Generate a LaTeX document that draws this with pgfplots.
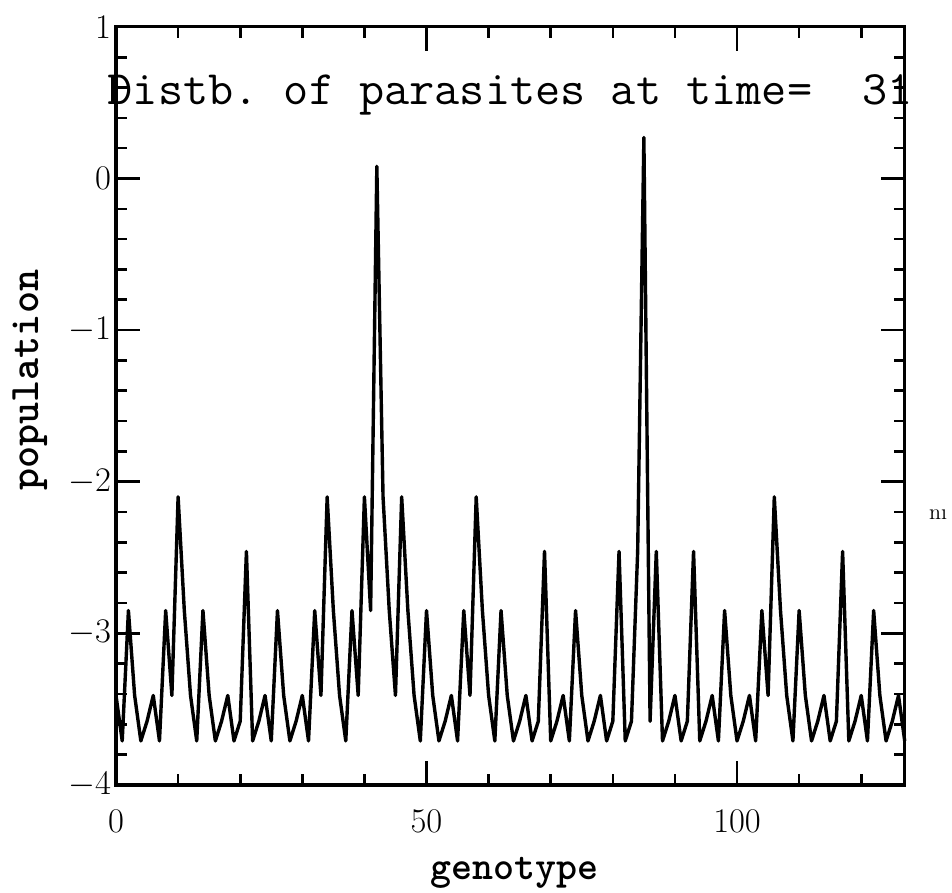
\documentclass[border=0pt]{standalone}
\usepackage{pgfplots}
\usepackage{pgfplotstable}
\usepackage{graphicx}
\pgfplotsset{compat=1.18}

\pgfplotstableread{
g v
0 -3.41
1 -3.71
2 -2.85
3 -3.41
4 -3.71
5 -3.58
6 -3.41
7 -3.71
8 -2.85
9 -3.41
10 -2.10
11 -2.85
12 -3.41
13 -3.71
14 -2.85
15 -3.41
16 -3.71
17 -3.58
18 -3.41
19 -3.71
20 -3.58
21 -2.46
22 -3.71
23 -3.58
24 -3.41
25 -3.71
26 -2.85
27 -3.41
28 -3.71
29 -3.58
30 -3.41
31 -3.71
32 -2.85
33 -3.41
34 -2.10
35 -2.85
36 -3.41
37 -3.71
38 -2.85
39 -3.41
40 -2.10
41 -2.85
42 0.08
43 -2.10
44 -2.85
45 -3.41
46 -2.10
47 -2.85
48 -3.41
49 -3.71
50 -2.85
51 -3.41
52 -3.71
53 -3.58
54 -3.41
55 -3.71
56 -2.85
57 -3.41
58 -2.10
59 -2.85
60 -3.41
61 -3.71
62 -2.85
63 -3.41
64 -3.71
65 -3.58
66 -3.41
67 -3.71
68 -3.58
69 -2.46
70 -3.71
71 -3.58
72 -3.41
73 -3.71
74 -2.85
75 -3.41
76 -3.71
77 -3.58
78 -3.41
79 -3.71
80 -3.58
81 -2.46
82 -3.71
83 -3.58
84 -2.46
85 0.27
86 -3.58
87 -2.46
88 -3.71
89 -3.58
90 -3.41
91 -3.71
92 -3.58
93 -2.46
94 -3.71
95 -3.58
96 -3.41
97 -3.71
98 -2.85
99 -3.41
100 -3.71
101 -3.58
102 -3.41
103 -3.71
104 -2.85
105 -3.41
106 -2.10
107 -2.85
108 -3.41
109 -3.71
110 -2.85
111 -3.41
112 -3.71
113 -3.58
114 -3.41
115 -3.71
116 -3.58
117 -2.46
118 -3.71
119 -3.58
120 -3.41
121 -3.71
122 -2.85
123 -3.41
124 -3.71
125 -3.58
126 -3.41
127 -3.71
}\parasites

\begin{document}
\begin{tikzpicture}
\begin{axis}[
  scale only axis,
  width=394.35pt, height=379pt,
  xmin=0, xmax=127, ymin=-4, ymax=1,
  xtick={0,50,100},
  minor xtick={10,20,30,40,60,70,80,90,110,120},
  ytick={-4,-3,-2,-1,0,1},
  minor y tick num=4,
  tick align=inside,
  major tick length=12pt,
  minor tick length=5.5pt,
  axis line style={line width=1.6pt},
  every tick/.style={line width=1.3pt, black},
  ticklabel style={font=\fontsize{19}{19}\selectfont},
  xticklabel style={yshift=-9pt},
  yticklabel style={xshift=1pt},
  clip=false,
]
\addplot[black, line width=1.7pt, line join=round] table[x=g, y=v] {\parasites};
\coordinate (ll) at (rel axis cs:0,0);
\coordinate (ur) at (rel axis cs:1,1);
\node[anchor=base, inner sep=0pt] at (rel axis cs:0.5,0.898)
  {\resizebox{402.5pt}{\height}{\ttfamily\frenchspacing\fontsize{24}{24}\selectfont Distb. of parasites at time=\ \ 31}};
\node[anchor=base, inner sep=0pt, yshift=-47.5pt] at (rel axis cs:0.505,0)
  {\ttfamily\bfseries\fontsize{20}{20}\selectfont genotype};
\node[anchor=center, inner sep=0pt, rotate=90, xshift=0pt, yshift=43pt] at (rel axis cs:0,0.534)
  {\ttfamily\bfseries\fontsize{21}{21}\selectfont population};
\node[anchor=west, inner sep=0pt, xshift=12pt] at (rel axis cs:1,0.356)
  {\fontsize{11}{11}\selectfont n\i};
\end{axis}
\pgfresetboundingbox
\path ([shift={(-58pt,-54pt)}]ll) rectangle ([shift={(23.65pt,13.45pt)}]ur);
\end{tikzpicture}
\end{document}
